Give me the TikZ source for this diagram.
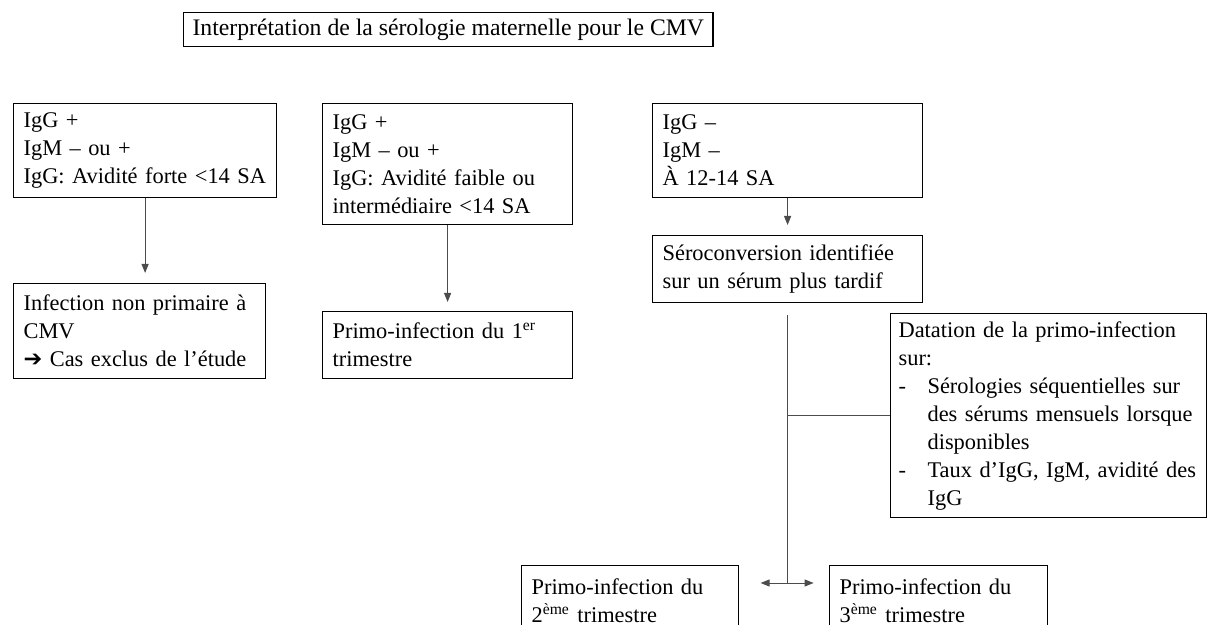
\documentclass[tikz,border=0pt]{standalone}
\usepackage{fontspec}
\setmainfont{Liberation Serif}
\newfontfamily\symbfont{DejaVu Sans}
\usetikzlibrary{arrows.meta}

\tikzset{
  boite/.style={draw=black, line width=0.6pt, anchor=north west, align=left,
    inner xsep=5pt, inner ysep=3pt, font=\fontsize{11.2}{14}\selectfont},
  lien/.style={draw=black!70, line width=0.45pt},
  fleche/.style={lien, -{Triangle[length=4.5pt,width=3.5pt]}}
}
\newcommand{\puce}{\makebox[14.5pt][l]{-}}
\newcommand{\retrait}{\hspace*{14.5pt}}

\begin{document}
\begin{tikzpicture}[x=0.5pt, y=-0.5pt]
\useasboundingbox (0,0) rectangle (1207,625);

\node[boite, inner xsep=4.5pt, minimum height=16.5pt, font=\fontsize{11.85}{13.8}\selectfont] (titre) at (183,12) {Interprétation de la sérologie maternelle pour le CMV};

\node[boite, text width=121.5pt, minimum height=47pt] (igfort) at (13,103) {IgG +\\IgM – ou +\\IgG: Avidité forte <14 SA};
\node[boite, text width=115pt, minimum height=60.5pt] (igfaible) at (322,103) {IgG +\\IgM – ou +\\IgG: Avidité faible ou\\intermédiaire <14 SA};
\node[boite, text width=125pt, minimum height=47pt] (igneg) at (652,103) {IgG –\\IgM –\\À 12-14 SA};

\node[boite, text width=116pt, minimum height=47.5pt] (nonprim) at (13,283) {Infection non primaire à\\CMV\\{\symbfont ➔} Cas exclus de l’étude};
\node[boite, text width=115pt, minimum height=33.5pt] (prim1) at (322,311) {Primo-infection du 1\textsuperscript{er}\\trimestre};
\node[boite, text width=125pt, minimum height=33.5pt] (sero) at (652,235) {Séroconversion identifiée\\sur un sérum plus tardif};

\node[boite, text width=150pt, inner xsep=4pt, minimum height=102pt] (datation) at (890,313) {Datation de la primo-infection\\sur:\\\puce Sérologies séquentielles sur\\\retrait des sérums mensuels lorsque\\\retrait disponibles\\\puce Taux d’IgG, IgM, avidité des\\\retrait IgG};

\node[boite, text width=98.5pt, minimum height=35pt] (prim2) at (521,565) {Primo-infection du\\2\textsuperscript{ème} trimestre};
\node[boite, text width=99pt, minimum height=35pt] (prim3) at (829,565) {Primo-infection du\\3\textsuperscript{ème} trimestre};

\coordinate (bas) at (0,583);
\coordinate (fourche) at (sero.south |- bas);
\coordinate (gauche) at ([xshift=-13.5pt]fourche);
\coordinate (droite) at ([xshift=13pt]fourche);

\draw[fleche, shorten >=5pt] (igfort.south) -- (igfort.south |- nonprim.north);
\draw[fleche, shorten >=4.5pt] (igfaible.south) -- (igfaible.south |- prim1.north);
\draw[fleche, shorten >=5pt] (igneg.south) -- (sero.north);
\draw[lien, shorten <=6pt] (sero.south) -- (fourche);
\draw[lien] (fourche |- datation.west) -- (datation.west);
\draw[fleche] (fourche) -- (gauche);
\draw[fleche] (fourche) -- (droite);
\end{tikzpicture}
\end{document}
